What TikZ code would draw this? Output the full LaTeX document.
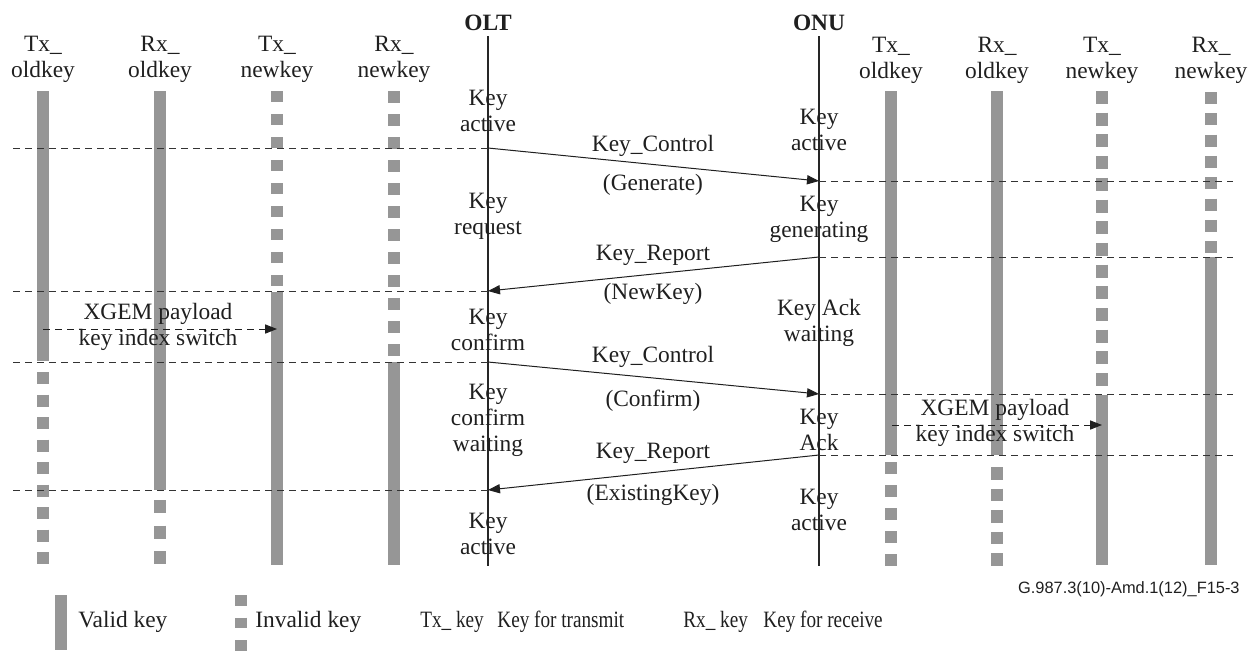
\documentclass[tikz,border=0pt]{standalone}
\usepackage{fontspec}
\setmainfont{Liberation Serif}
\newfontfamily\figsans{Liberation Sans}
\usetikzlibrary{arrows.meta}
\definecolor{keygray}{RGB}{150,150,150}

\begin{document}
\begin{tikzpicture}[x=.5pt,y=-.5pt,line cap=butt,line join=miter,
  valid/.style={draw=keygray,line width=6pt},
  invalid/.style={draw=keygray,line width=6pt},
  life/.style={draw=black!85,line width=.55pt},
  guide/.style={draw=black!80,line width=.5pt,dash pattern=on 3.5pt off 2.5pt},
  msg/.style={draw=black!88,line width=.5pt,-{Triangle[length=6pt,width=4.6pt]}},
  xgem/.style={msg,dash pattern=on 3.5pt off 2.5pt},
  txt/.style={font=\fontsize{11.7}{13}\selectfont,align=center,inner sep=0pt,text=black!88},
  head/.style={txt,font=\fontsize{11.7}{13}\selectfont\bfseries}]
\useasboundingbox (0,0) rectangle (1254,650);

% Column headers.
\node[txt] (ltxold) at (43,59) {Tx\_\\oldkey};
\node[txt] (lrxold) at (160,59) {Rx\_\\oldkey};
\node[txt] (ltxnew) at (277,59) {Tx\_\\newkey};
\node[txt] (lrxnew) at (394,59) {Rx\_\\newkey};
\node[txt] (rtxold) at (891,60) {Tx\_\\oldkey};
\node[txt] (rrxold) at (997,60) {Rx\_\\oldkey};
\node[txt] (rtxnew) at (1102,60) {Tx\_\\newkey};
\node[txt] (rrxnew) at (1211,60) {Rx\_\\newkey};
\node[head] (olt) at (488,23) {OLT};
\node[head] (onu) at (819,23) {ONU};

% Key bars, OLT side.
\draw[valid] (43,91)--(43,361);
\foreach \y in {372,394.5,...,556} \draw[invalid] (43,\y)--++(0,12);
\draw[valid] (160,91)--(160,490);
\foreach \y in {500,525.5,...,553} \draw[invalid] (160,\y)--++(0,13);
\foreach \y in {91,114,...,276} \draw[invalid] (277,\y)--++(0,11);
\draw[valid] (277,292)--(277,565);
\foreach \y in {91,114,...,345} \draw[invalid] (394,\y)--++(0,12);
\draw[valid] (394,362)--(394,565);

% Key bars, ONU side.
\draw[valid] (891,91)--(891,455);
\foreach \y in {462,485,...,555} \draw[invalid] (891,\y)--++(0,12);
\draw[valid] (997,91)--(997,455);
\foreach \y in {467,488.5,...,555} \draw[invalid] (997,\y)--++(0,12.5);
\foreach \y in {91,112.7,...,376} \draw[invalid] (1102,\y)--++(0,13);
\draw[valid] (1102,395)--(1102,565);
\foreach \y in {92,113.3,...,243} \draw[invalid] (1211,\y)--++(0,12);
\draw[valid] (1211,257)--(1211,565);

% Lifelines.
\coordinate (olttop) at (488,36);
\coordinate (oltend) at (488,566);
\coordinate (onutop) at (819,36);
\coordinate (onuend) at (819,566);
\draw[life] (olttop)--(oltend);
\draw[life] (onutop)--(onuend);

% Message points and time guides.
\coordinate (olt1) at (488,148); \coordinate (onu1) at (819,181);
\coordinate (onu2) at (819,257); \coordinate (olt2) at (488,291);
\coordinate (olt3) at (488,362); \coordinate (onu3) at (819,394);
\coordinate (onu4) at (819,455); \coordinate (olt4) at (488,490);
\coordinate (w1) at (13,148); \coordinate (w2) at (13,291);
\coordinate (w3) at (13,362); \coordinate (w4) at (13,490);
\coordinate (e1) at (1233,181); \coordinate (e2) at (1233,257);
\coordinate (e3) at (1233,394); \coordinate (e4) at (1233,455);
\draw[guide] (w1)--(olt1) (w2)--(olt2) (w3)--(olt3) (w4)--(olt4);
\draw[guide] (onu1)--(e1) (onu2)--(e2) (onu3)--(e3) (onu4)--(e4);

% Messages.
\draw[msg] (olt1)--(onu1);
\node[txt] (ctl1) at (653,146) {Key\_Control};
\node[txt] (gen) at (653,185) {(Generate)};
\draw[msg] (onu2)--(olt2);
\node[txt] (rep1) at (653,255) {Key\_Report};
\node[txt] (newk) at (653,294) {(NewKey)};
\draw[msg] (olt3)--(onu3);
\node[txt] (ctl2) at (653,357) {Key\_Control};
\node[txt] (conf) at (653,401) {(Confirm)};
\draw[msg] (onu4)--(olt4);
\node[txt] (rep2) at (653,453) {Key\_Report};
\node[txt] (exk) at (653,495) {(ExistingKey)};

% Key states.
\node[txt] (oltact) at (488,111) {Key\\active};
\node[txt] (oltreq) at (488,216) {Key\\request};
\node[txt] (oltcon) at (488,330) {Key\\confirm};
\node[txt] (oltwait) at (488,420) {Key\\confirm\\waiting};
\node[txt] (oltact2) at (488,534) {Key\\active};
\node[txt] (onuact) at (819,130) {Key\\active};
\node[txt] (onugen) at (819,219) {Key\\generating};
\node[txt] (onuwait) at (819,323) {Key Ack\\waiting};
\node[txt] (onuack) at (819,430) {Key\\Ack};
\node[txt] (onuact2) at (819,510) {Key\\active};

% Key index switch.
\coordinate (lsw) at (43,329); \coordinate (lswend) at (277,329);
\draw[xgem] (lsw)--(lswend);
\node[txt] (lpay) at (158,327) {XGEM payload\\key index switch};
\coordinate (rsw) at (892,425); \coordinate (rswend) at (1102,425);
\draw[xgem] (rsw)--(rswend);
\node[txt] (rpay) at (995,423) {XGEM payload\\key index switch};

% Legend.
\node[txt,font=\fontsize{8.2}{9}\selectfont\figsans,anchor=east] (fig) at (1240,589) {G.987.3(10)-Amd.1(12)\_F15-3};
\draw[valid] (61,595)--(61,650);
\node[txt,anchor=west] (validkey) at (78,622) {Valid key};
\foreach \y in {595,617.5,640} \draw[invalid] (241,\y)--++(0,10.5);
\node[txt,anchor=west] (invkey) at (255,622) {Invalid key};
\node[txt,anchor=west] (txkey) at (420,622) {\scalebox{.82}[1]{Tx\_ key}};
\node[txt,anchor=west] (txdesc) at (497,622) {\scalebox{.82}[1]{Key for transmit}};
\node[txt,anchor=west] (rxkey) at (683,622) {\scalebox{.82}[1]{Rx\_ key}};
\node[txt,anchor=west] (rxdesc) at (763,622) {\scalebox{.82}[1]{Key for receive}};
\end{tikzpicture}
\end{document}
